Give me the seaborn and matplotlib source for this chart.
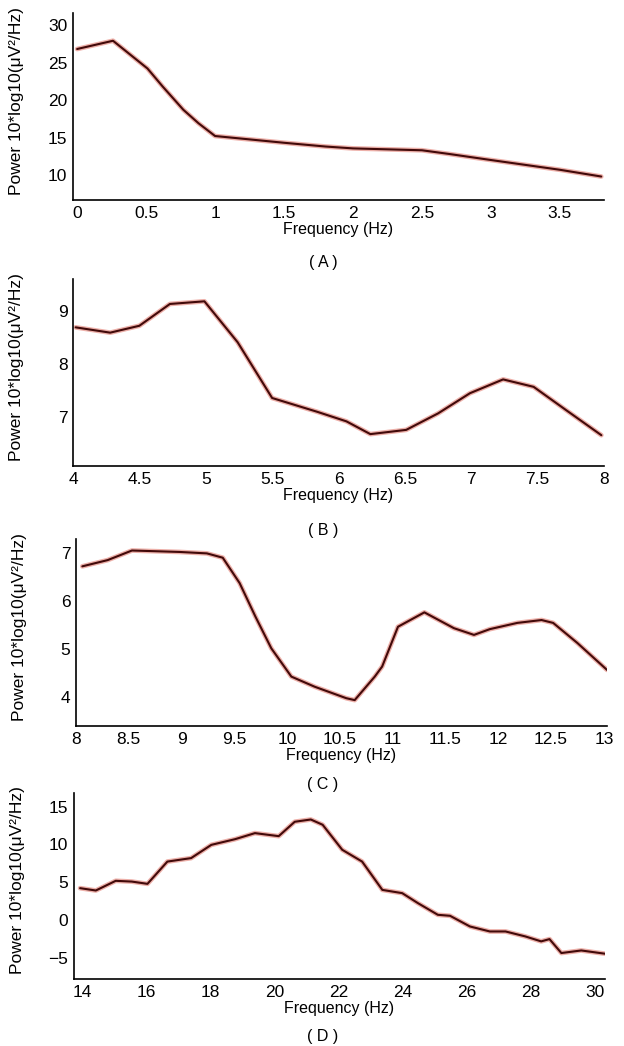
import pandas as pd
import seaborn as sns
import matplotlib
matplotlib.use('Agg')
import matplotlib.pyplot as plt

sns.set_style('white')
plt.rcParams['font.family'] = ['Liberation Sans', 'DejaVu Sans']
plt.rcParams['text.color'] = 'black'
plt.rcParams['axes.labelcolor'] = 'black'
plt.rcParams['xtick.color'] = 'black'
plt.rcParams['ytick.color'] = 'black'

# values (frequency in Hz, power in dB)
freq_a = [0.0, 0.26, 0.51, 0.62, 0.77, 0.88, 1.0, 1.5, 1.8, 2.0, 2.5, 2.7, 3.0, 3.5, 3.8]
pow_a = [26.8, 27.9, 24.2, 21.8, 18.7, 16.9, 15.2, 14.3, 13.8, 13.55, 13.3, 12.8, 12.0, 10.7, 9.8]

freq_b = [4.02, 4.28, 4.5, 4.73, 4.99, 5.24, 5.5, 5.84, 6.06, 6.24, 6.51, 6.75, 6.99, 7.24,
          7.47, 7.71, 7.98]
pow_b = [8.69, 8.59, 8.72, 9.13, 9.18, 8.41, 7.36, 7.10, 6.92, 6.68, 6.76, 7.07, 7.45, 7.71,
         7.57, 7.14, 6.66]

freq_c = [8.06, 8.30, 8.53, 8.98, 9.24, 9.39, 9.55, 9.70, 9.85, 10.04, 10.26, 10.56, 10.64,
          10.83, 10.90, 11.05, 11.30, 11.58, 11.77, 11.92, 12.18, 12.41, 12.52, 12.75, 13.03]
pow_c = [6.72, 6.85, 7.05, 7.02, 6.99, 6.90, 6.37, 5.67, 5.01, 4.42, 4.21, 3.97, 3.93,
         4.42, 4.63, 5.46, 5.76, 5.43, 5.29, 5.41, 5.54, 5.60, 5.54, 5.12, 4.56]

freq_d = [13.94, 14.43, 15.05, 15.55, 16.04, 16.66, 17.4, 18.03, 18.77, 19.39, 20.13, 20.63,
          21.13, 21.5, 22.11, 22.73, 23.36, 23.98, 24.47, 25.09, 25.47, 26.09, 26.71, 27.2,
          27.82, 28.31, 28.57, 28.94, 29.56, 30.3]
pow_d = [4.23, 3.92, 5.2, 5.1, 4.8, 7.74, 8.2, 9.95, 10.7, 11.5, 11.1, 13.0, 13.3, 12.6, 9.3,
         7.74, 4.0, 3.57, 2.25, 0.71, 0.58, -0.83, -1.49, -1.49, -2.15, -2.8, -2.5, -4.34,
         -4.0, -4.43]

panel_labels = ['( A )', '( B )', '( C )', '( D )']
x_ticks = [
    [0, 0.5, 1, 1.5, 2, 2.5, 3, 3.5],
    [4, 4.5, 5, 5.5, 6, 6.5, 7, 7.5, 8],
    [8, 8.5, 9, 9.5, 10, 10.5, 11, 11.5, 12, 12.5, 13],
    [14, 16, 18, 20, 22, 24, 26, 28, 30],
]
y_ticks = [[10, 15, 20, 25, 30], [7, 8, 9], [4, 5, 6, 7], [-5, 0, 5, 10, 15]]

panels = [
    (freq_a, pow_a, (-0.03, 3.82), (6.67, 31.6)),
    (freq_b, pow_b, (4.0, 8.0), (6.08, 9.6)),
    (freq_c, pow_c, (8.0, 13.03), (3.39, 7.29)),
    (freq_d, pow_d, (13.75, 30.3), (-7.77, 16.8)),
]

W, H = 624, 1046
# axes boxes in pixels: left, right, top, bottom
boxes = [(73, 604, 13, 200), (73, 604, 279, 466), (76, 607, 539, 726), (74, 605, 793, 979)]
label_y = [263, 530, 785, 1037]

fig = plt.figure(figsize=(W / 100, H / 100), dpi=100)

for i, (fx, py, xl, yl) in enumerate(panels):
    l, r, t, b = boxes[i]
    ax = fig.add_axes([l / W, 1 - b / H, (r - l) / W, (b - t) / H])
    df = pd.DataFrame({'Frequency': fx, 'Power': py})
    sns.lineplot(data=df, x='Frequency', y='Power', ax=ax, color='#d23a2a',
                 linewidth=3.4, alpha=0.4)
    sns.lineplot(data=df, x='Frequency', y='Power', ax=ax, color='#420a0a',
                 linewidth=1.5)
    ax.set_xlim(*xl)
    ax.set_ylim(*yl)
    ax.set_xticks(x_ticks[i])
    ax.set_xticklabels([f'{v:g}' for v in x_ticks[i]])
    ax.set_yticks(y_ticks[i])
    ax.tick_params(length=0, labelsize=12.5, pad=4)
    for s in ['top', 'right']:
        ax.spines[s].set_visible(False)
    for s in ['left', 'bottom']:
        ax.spines[s].set_color('black')
        ax.spines[s].set_linewidth(1.2)
    ax.set_xlabel('Frequency (Hz)', fontsize=11.5, labelpad=1)
    ax.set_ylabel('Power 10*log10(\u03bcV\u00b2/Hz)', fontsize=12.5)
    ax.yaxis.set_label_coords(-0.092, 0.53)
    fig.text(323 / W, 1 - label_y[i] / H, panel_labels[i], ha='center', va='center',
             fontsize=11.5)

fig.savefig('out.png', dpi=100)
